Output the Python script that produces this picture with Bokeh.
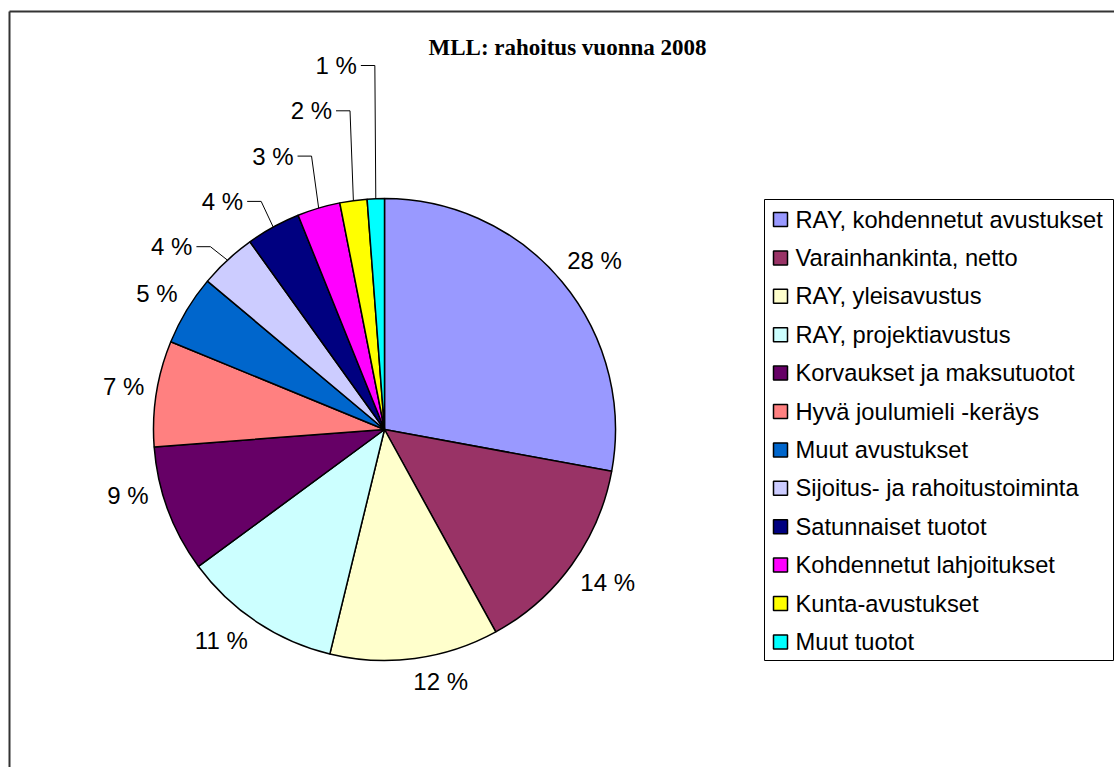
import math
from bokeh.plotting import figure
from bokeh.models import Range1d, ColumnDataSource
from bokeh.core.properties import value
from bokeh.embed import file_html
from bokeh.resources import INLINE

# ---------------- data ----------------
title = "MLL: rahoitus vuonna 2008"
categories = [
    "RAY, kohdennetut avustukset",
    "Varainhankinta, netto",
    "RAY, yleisavustus",
    "RAY, projektiavustus",
    "Korvaukset ja maksutuotot",
    "Hyvä joulumieli -keräys",
    "Muut avustukset",
    "Sijoitus- ja rahoitustoiminta",
    "Satunnaiset tuotot",
    "Kohdennetut lahjoitukset",
    "Kunta-avustukset",
    "Muut tuotot",
]
shares = [27.9, 14.1, 11.8, 11.1, 8.9, 7.4, 4.9, 4.0, 3.8, 3.0, 1.9, 1.2]
colors = ["#9999FF", "#993366", "#FFFFCC", "#CCFFFF", "#660066", "#FF8080",
          "#0066CC", "#CCCCFF", "#000080", "#FF00FF", "#FFFF00", "#00FFFF"]
labels = [f"{round(s)} %" for s in shares]

# ---------------- layout ----------------
W, H = 1114, 767
def px(x):  # page pixel x -> data x
    return x
def py(y):  # page pixel y -> data y
    return H - y

FONT = value("Liberation Sans")
FS = "24px"
TXT = 0  # vertical offset from visual text centre to baseline anchor (data units)

p = figure(width=W, height=H, output_backend="svg", toolbar_location=None,
           x_range=Range1d(0, W), y_range=Range1d(0, H), min_border=0)
p.axis.visible = False
p.grid.visible = False
p.outline_line_color = None
p.background_fill_color = "white"
p.border_fill_color = "white"

# chart-area border (top and left edges visible)
p.line([px(9), W], [py(11), py(11)], line_color="#333333", line_width=2)
p.line([px(9), px(9)], [0, py(11)], line_color="#333333", line_width=2)

# title
p.text(x=[px(567)], y=[py(47)], text=[title], text_font=value("Liberation Serif"),
       text_font_style="bold", text_font_size="23px", text_align="center",
       text_baseline="middle", text_color="black")

# pie
cx, cy, R = px(384), py(429), 231
total = sum(shares)
starts, ends, mids = [], [], []
cum = 0.0
for s in shares:
    a0 = math.pi / 2 - 2 * math.pi * cum / total
    cum += s
    a1 = math.pi / 2 - 2 * math.pi * cum / total
    starts.append(a0)
    ends.append(a1)
    mids.append((a0 + a1) / 2)

src = ColumnDataSource(dict(start=starts, end=ends, color=colors, name=categories,
                            x=[cx] * len(shares), y=[cy] * len(shares)))
p.wedge(x="x", y="y", radius=R, start_angle="start", end_angle="end",
        direction="clock", fill_color="color", line_color="black",
        line_width=1.5, source=src)

# labels placed outside the slices (small angular nudges as in the original layout)
n_direct = 7
nudge_deg = [0.9, -1.4, -5.0, 4.0, 6.0, 0.3, -0.2]
cx_l, cy_l, ct_l = [], [], []
for i in range(n_direct):
    phi = mids[i] - math.radians(nudge_deg[i])
    w = 53 if len(labels[i]) > 3 else 40
    h = 20
    d = R + 12 + abs(math.cos(phi)) * w / 2 + abs(math.sin(phi)) * h / 2
    cx_l.append(cx + d * math.cos(phi))
    cy_l.append(cy + d * math.sin(phi) + TXT)
    ct_l.append(labels[i])
p.text(x=cx_l, y=cy_l, text=ct_l, text_font=FONT, text_font_size=FS,
       text_align="center", text_baseline="middle", text_color="black")

# leader-line labels for the small slices
rx, ry, rt, lxs, lys = [], [], [], [], []
n = len(shares)
for i in range(n_direct, n):
    phi = mids[i]
    ex = cx + R * math.cos(phi)
    ey = cy + R * math.sin(phi)
    elbow_y = py(65 + 45.3 * (n - 1 - i))
    elbow_x = ex + 25 * math.cos(phi)
    lxs.append([elbow_x - 14, elbow_x, ex])
    lys.append([elbow_y, elbow_y, ey])
    rx.append(elbow_x - 18)
    ry.append(elbow_y + TXT)
    rt.append(labels[i])
p.multi_line(xs=lxs, ys=lys, line_color="black", line_width=1)
p.text(x=rx, y=ry, text=rt, text_font=FONT, text_font_size=FS,
       text_align="right", text_baseline="middle", text_color="black")

# legend
p.quad(left=[px(764)], right=[px(1113)], top=[py(199)], bottom=[py(660)],
       fill_color="white", line_color="black", line_width=1)
row_y = [py(219 + 38.4 * i) for i in range(n)]
p.rect(x=[px(780)] * n, y=row_y, width=14, height=14, fill_color=colors,
       line_color="black", line_width=1.5)
p.text(x=[px(795)] * n, y=[y + TXT for y in row_y], text=categories, text_font=FONT,
       text_font_size="23.7px", text_align="left", text_baseline="middle",
       text_color="black")

open("out.html", "w").write(file_html(p, INLINE))
